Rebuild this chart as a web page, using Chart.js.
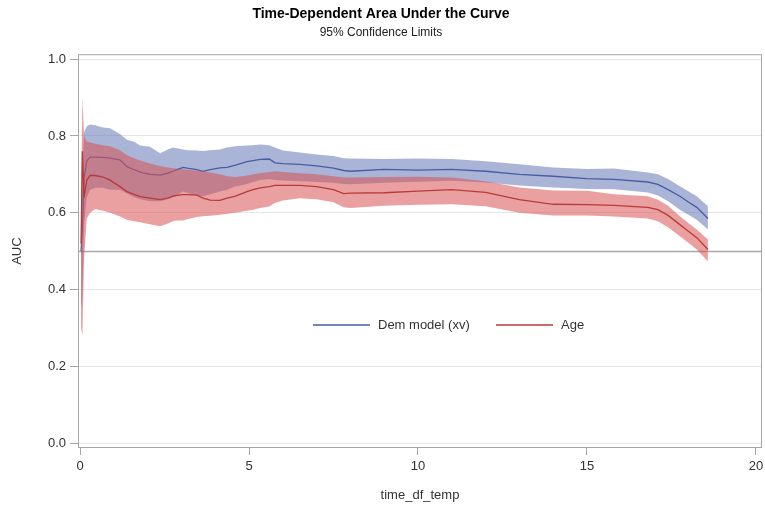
<!DOCTYPE html>
<html>
<head>
<meta charset="utf-8">
<script src="https://cdn.jsdelivr.net/npm/chart.js@4"></script>
<style>
  body { margin: 0; background: #fff; }
</style>
</head>
<body>
<canvas id="aucChart" width="765" height="507"></canvas>
<script>
const times = [0.03, 0.07, 0.12, 0.2, 0.3, 0.45, 0.68, 0.89, 1.18, 1.39, 1.6, 1.78, 2.07, 2.37, 2.6, 2.75, 2.87, 3.05, 3.17, 3.46, 3.64, 3.85, 4.14, 4.35, 4.6, 4.94, 5.12, 5.33, 5.6, 5.77, 6.0, 6.5, 7.0, 7.5, 7.8, 8.0, 9.0, 10.0, 11.0, 12.0, 13.0, 14.0, 15.0, 15.8, 16.8, 17.1, 17.4, 17.75, 18.0, 18.25, 18.58];

const demEst = [0.50, 0.56, 0.69, 0.735, 0.745, 0.745, 0.744, 0.742, 0.738, 0.72, 0.712, 0.706, 0.70, 0.698, 0.703, 0.708, 0.712, 0.718, 0.716, 0.712, 0.708, 0.712, 0.717, 0.718, 0.724, 0.733, 0.736, 0.739, 0.74, 0.73, 0.728, 0.726, 0.722, 0.716, 0.71, 0.708, 0.713, 0.711, 0.713, 0.708, 0.70, 0.695, 0.689, 0.687, 0.68, 0.674, 0.66, 0.643, 0.628, 0.614, 0.585];
const demUpper = [0.58, 0.72, 0.81, 0.825, 0.83, 0.828, 0.822, 0.82, 0.805, 0.79, 0.785, 0.775, 0.772, 0.755, 0.765, 0.77, 0.768, 0.765, 0.763, 0.762, 0.761, 0.763, 0.765, 0.77, 0.773, 0.775, 0.776, 0.778, 0.776, 0.77, 0.762, 0.757, 0.752, 0.748, 0.742, 0.741, 0.74, 0.741, 0.74, 0.734, 0.726, 0.718, 0.714, 0.715, 0.705, 0.70, 0.688, 0.669, 0.656, 0.643, 0.617];
const demLower = [0.35, 0.38, 0.57, 0.64, 0.66, 0.665, 0.665, 0.66, 0.66, 0.65, 0.64, 0.635, 0.63, 0.63, 0.635, 0.64, 0.645, 0.655, 0.652, 0.645, 0.643, 0.648, 0.655, 0.66, 0.668, 0.675, 0.68, 0.685, 0.688, 0.685, 0.684, 0.682, 0.68, 0.678, 0.675, 0.674, 0.678, 0.681, 0.683, 0.679, 0.671, 0.666, 0.662, 0.661, 0.653, 0.645, 0.63, 0.608, 0.595, 0.582, 0.556];

const ageEst = [0.52, 0.76, 0.64, 0.685, 0.697, 0.697, 0.693, 0.685, 0.668, 0.655, 0.648, 0.642, 0.638, 0.634, 0.638, 0.643, 0.645, 0.647, 0.647, 0.646, 0.638, 0.633, 0.632, 0.638, 0.643, 0.655, 0.66, 0.665, 0.668, 0.671, 0.671, 0.671, 0.668, 0.66, 0.65, 0.651, 0.652, 0.656, 0.66, 0.653, 0.634, 0.622, 0.621, 0.619, 0.614, 0.608, 0.593, 0.569, 0.552, 0.535, 0.504];
const ageUpper = [0.65, 0.90, 0.80, 0.785, 0.783, 0.78, 0.776, 0.773, 0.763, 0.75, 0.742, 0.736, 0.728, 0.722, 0.718, 0.716, 0.715, 0.713, 0.712, 0.71, 0.708, 0.705, 0.70, 0.695, 0.693, 0.697, 0.70, 0.703, 0.706, 0.708, 0.706, 0.703, 0.70, 0.695, 0.692, 0.692, 0.693, 0.694, 0.692, 0.682, 0.666, 0.658, 0.657, 0.648, 0.643, 0.634, 0.618, 0.591, 0.573, 0.556, 0.53];
const ageLower = [0.30, 0.28, 0.48, 0.585, 0.60, 0.61, 0.605, 0.60, 0.59, 0.582, 0.578, 0.575, 0.57, 0.565, 0.572, 0.578, 0.58, 0.58, 0.583, 0.589, 0.591, 0.592, 0.595, 0.597, 0.60, 0.605, 0.608, 0.612, 0.616, 0.625, 0.632, 0.638, 0.635, 0.627, 0.614, 0.612, 0.618, 0.621, 0.622, 0.617, 0.60, 0.593, 0.593, 0.59, 0.585, 0.578, 0.562, 0.539, 0.522, 0.504, 0.473];

const seriesNames = ["Dem model (xv)", "Age"];
const xTicks = [0, 5, 10, 15, 20];
const yTicks = [0.0, 0.2, 0.4, 0.6, 0.8, 1.0];
const refLine = 0.5;

const blueLine = "rgb(72,92,165)";
const blueBand = "rgba(100,119,182,0.55)";
const redLine = "rgb(185,58,58)";
const redBand = "rgba(217,82,82,0.55)";
const fontFam = "'Liberation Sans', Arial, sans-serif";

function pts(vals) {
  return times.map((t, i) => ({ x: t, y: vals[i] }));
}

function band(vals, color, fillTo, order) {
  return {
    data: pts(vals),
    borderWidth: 0,
    pointRadius: 0,
    backgroundColor: color,
    fill: fillTo,
    order: order,
  };
}

// frame, reference line and in-plot legend
const extras = {
  id: "extras",
  beforeDatasetsDraw(chart) {
    const { ctx, chartArea, scales } = chart;
    const y = Math.round(scales.y.getPixelForValue(refLine)) + 0.5;
    ctx.save();
    ctx.strokeStyle = "#a9a9a9";
    ctx.lineWidth = 1.5;
    ctx.beginPath();
    ctx.moveTo(chartArea.left, y);
    ctx.lineTo(chartArea.right, y);
    ctx.stroke();
    ctx.restore();
  },
  afterDraw(chart) {
    const { ctx, chartArea } = chart;
    ctx.save();
    ctx.strokeStyle = "#a6a6a6";
    ctx.lineWidth = 1;
    ctx.strokeRect(chartArea.left + 0.5, chartArea.top + 0.5,
      chartArea.right - chartArea.left - 1, chartArea.bottom - chartArea.top - 1);

    const lx = [313, 496], ly = 325;
    ctx.font = "13px " + fontFam;
    ctx.textBaseline = "middle";
    ctx.fillStyle = "#333";
    [blueLine, redLine].forEach((c, i) => {
      ctx.strokeStyle = c;
      ctx.lineWidth = 1.5;
      ctx.beginPath();
      ctx.moveTo(lx[i], ly);
      ctx.lineTo(lx[i] + 57, ly);
      ctx.stroke();
      ctx.fillText(seriesNames[i], lx[i] + 65, ly);
    });
    ctx.restore();
  },
};

new Chart("aucChart", {
  type: "line",
  data: {
    datasets: [
      band(demUpper, blueBand, "+1", 60),
      band(demLower, blueBand, false, 50),
      {
        label: seriesNames[0],
        data: pts(demEst),
        borderColor: blueLine,
        borderWidth: 1.3,
        pointRadius: 0,
        fill: false,
        order: 40,
      },
      band(ageUpper, redBand, "+1", 30),
      band(ageLower, redBand, false, 20),
      {
        label: seriesNames[1],
        data: pts(ageEst),
        borderColor: redLine,
        borderWidth: 1.3,
        pointRadius: 0,
        fill: false,
        order: 10,
      },
    ],
  },
  plugins: [extras],
  options: {
    responsive: false,
    animation: false,
    layout: { padding: { top: 0, right: 3, bottom: 0, left: 0 } },
    plugins: {
      legend: { display: false },
      tooltip: { enabled: false },
      title: {
        display: true,
        text: "Time-Dependent Area Under the Curve",
        color: "#000",
        font: { family: fontFam, size: 14, weight: "bold" },
        padding: { top: 6, bottom: 0 },
      },
      subtitle: {
        display: true,
        text: "95% Confidence Limits",
        color: "#222",
        font: { family: fontFam, size: 12 },
        padding: { top: 3, bottom: 14 },
      },
    },
    scales: {
      x: {
        type: "linear",
        min: -0.06,
        max: 20.18,
        afterBuildTicks: (axis) => { axis.ticks = xTicks.map((v) => ({ value: v })); },
        afterFit: (axis) => { axis.height = 59; axis.paddingRight = 0; },
        grid: { drawOnChartArea: false, tickLength: 7, tickColor: "#a6a6a6" },
        border: { display: false },
        ticks: { color: "#333", font: { family: fontFam, size: 13 }, padding: 4, maxRotation: 0 },
        title: {
          display: true,
          text: "time_df_temp",
          color: "#333",
          font: { family: fontFam, size: 13 },
          padding: { top: 3 },
        },
      },
      y: {
        min: -0.013,
        max: 1.013,
        afterBuildTicks: (axis) => { axis.ticks = yTicks.map((v) => ({ value: v })); },
        afterFit: (axis) => { axis.width = 78; },
        grid: { color: "#e6e6e6", tickLength: 8, tickColor: "#a6a6a6" },
        border: { display: false },
        ticks: {
          color: "#333",
          font: { family: fontFam, size: 13 },
          padding: 4,
          callback: (v) => v.toFixed(1),
        },
        title: {
          display: true,
          text: "AUC",
          color: "#333",
          font: { family: fontFam, size: 13 },
          padding: { top: 10, bottom: 4 },
        },
      },
    },
  },
});
</script>
</body>
</html>
